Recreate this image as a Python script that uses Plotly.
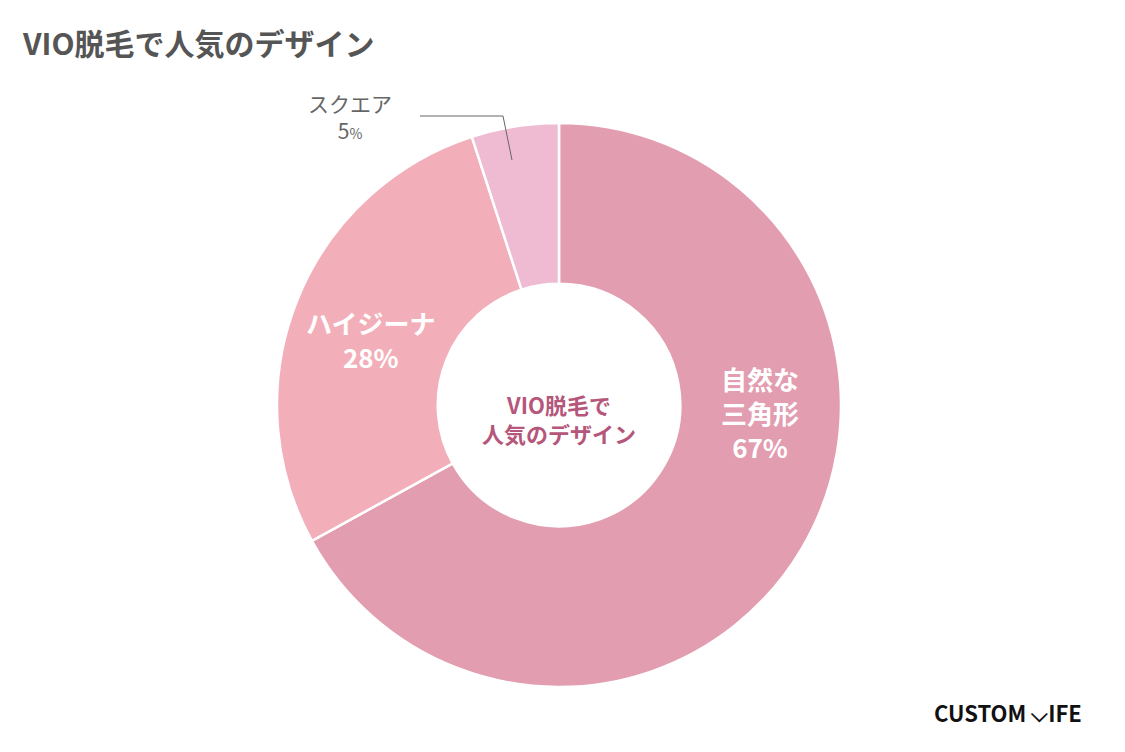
import plotly.graph_objects as go

W, H = 1125, 752
OFF = 8  # page body margin in the browser
labels = ["自然な三角形", "ハイジーナ", "スクエア"]
values = [67, 28, 5]
colors = ["#E29DB0", "#F2AFBA", "#EFBBD3"]

FONT = "Noto Sans CJK JP"

def px(x, y):
    return (x - OFF) / W, 1 - (y - OFF) / H

dx0, dy1 = px(277, 123)
dx1, dy0 = px(841, 687)
fig = go.Figure(go.Pie(
    labels=labels, values=values, sort=False, direction="clockwise", rotation=0,
    hole=0.43, textinfo="none", hoverinfo="label+percent",
    marker=dict(colors=colors, line=dict(color="white", width=2.5)),
    domain=dict(x=[dx0, dx1], y=[dy0, dy1]),
    showlegend=False,
))

ann = []
def add(x, y, text, size, color, xanchor="center"):
    ax, ay = px(x, y)
    ann.append(dict(x=ax, y=ay, xref="paper", yref="paper", text=text, showarrow=False,
                    xanchor=xanchor, yanchor="middle",
                    font=dict(family=FONT, size=size, color=color)))

add(20, 42, "<b>VIO脱毛で人気のデザイン</b>", 30, "#555555", xanchor="left")
add(559, 418, "<b>VIO脱毛で<br>人気のデザイン</b>", 22, "#B5577A")
add(760, 412, "<b>自然な<br>三角形<br>67%</b>", 26, "white")
add(370, 340, "<b>ハイジーナ<br>28%</b>", 26, "white")
add(350, 117, "スクエア<br>5<span style='font-size:14px'>%</span>", 21, "#666666")
add(1008, 712, "<b>CUSTOM ⌵IFE</b>", 22, "#111111")

x0, y0 = px(420, 116)
x1, y1 = px(503, 116)
x2, y2 = px(512, 160)
shapes = [dict(type="path", xref="paper", yref="paper",
               path=f"M {x0} {y0} L {x1} {y1} L {x2} {y2}",
               line=dict(color="#666666", width=1))]

fig.update_layout(width=W, height=H, margin=dict(l=0, r=0, t=0, b=0),
                  paper_bgcolor="white", plot_bgcolor="white",
                  annotations=ann, shapes=shapes)
fig.write_html("out.html")
